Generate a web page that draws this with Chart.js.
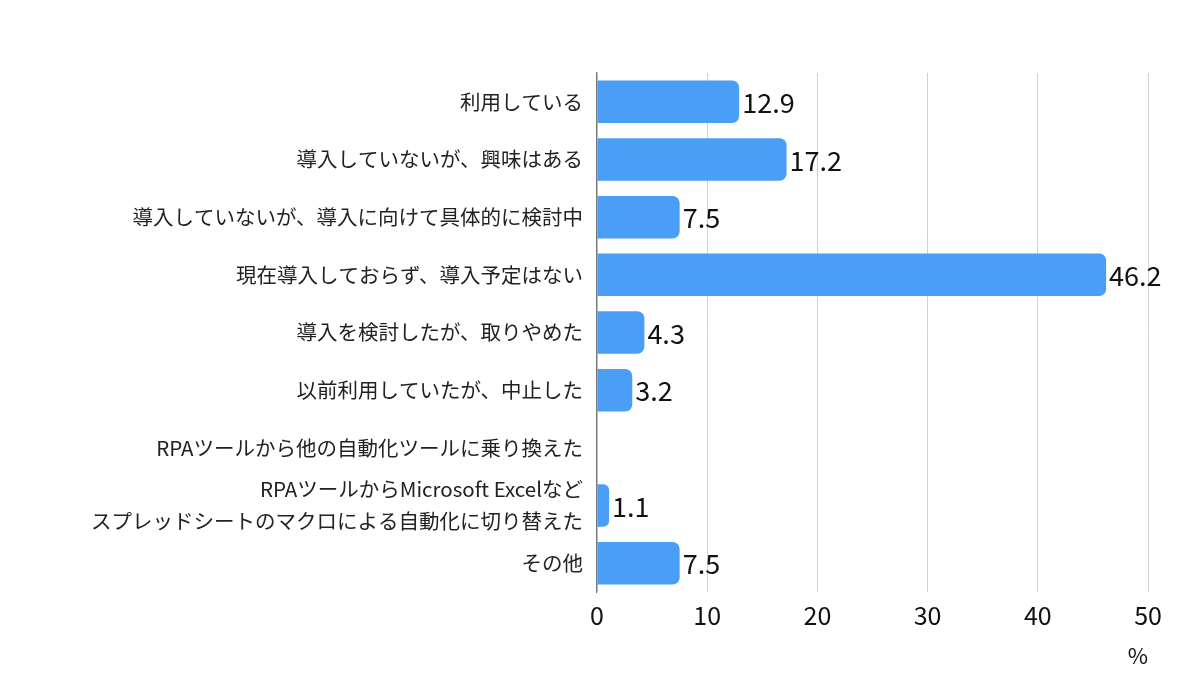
<!DOCTYPE html>
<html><head><meta charset="utf-8">
<script src="https://cdn.jsdelivr.net/npm/chart.js@4"></script>
<style>html,body{margin:0;padding:0;background:#fff}#wrap{width:1200px;height:691px}</style>
</head><body><div id="wrap"><canvas id="c"></canvas></div>
<script>
const categories = [
  "利用している",
  "導入していないが、興味はある",
  "導入していないが、導入に向けて具体的に検討中",
  "現在導入しておらず、導入予定はない",
  "導入を検討したが、取りやめた",
  "以前利用していたが、中止した",
  "RPAツールから他の自動化ツールに乗り換えた",
  ["RPAツールからMicrosoft Excelなど", "スプレッドシートのマクロによる自動化に切り替えた"],
  "その他"
];
const values = [12.9, 17.2, 7.5, 46.2, 4.3, 3.2, null, 1.1, 7.5];
const xTicks = [0, 10, 20, 30, 40, 50];
const axisUnit = "%";

const FONT = "'Noto Sans CJK JP', 'Noto Sans', sans-serif";

const valueLabels = {
  id: 'valueLabels',
  afterDatasetsDraw(chart) {
    const ctx = chart.ctx;
    const meta = chart.getDatasetMeta(0);
    ctx.save();
    ctx.font = "27px " + FONT;
    ctx.fillStyle = "#111";
    ctx.textAlign = "left";
    ctx.textBaseline = "middle";
    meta.data.forEach((bar, i) => {
      const v = values[i];
      if (v === null || v === undefined) return;
      ctx.fillText(v.toFixed(1), bar.x + 3, bar.y + 1);
    });
    ctx.restore();
  }
};

new Chart(document.getElementById('c'), {
  type: 'bar',
  data: {
    labels: categories,
    datasets: [{
      data: values,
      backgroundColor: '#4A9EF5',
      borderWidth: 0,
      borderRadius: {topLeft: 0, bottomLeft: 0, topRight: 7, bottomRight: 7},
      borderSkipped: false,
      categoryPercentage: 0.9,
      barPercentage: 0.82
    }]
  },
  options: {
    indexAxis: 'y',
    responsive: true,
    maintainAspectRatio: false,
    animation: false,
    layout: { padding: { top: 73, right: 52, bottom: 0, left: 0 } },
    plugins: { legend: { display: false }, tooltip: { enabled: false } },
    scales: {
      x: {
        min: 0, max: 50,
        afterBuildTicks(scale) { scale.ticks = xTicks.map(v => ({ value: v })); },
        afterFit(scale) { scale.height = 99; },
        grid: { color: '#d0d0d0', lineWidth: 1, drawTicks: false },
        border: { display: false },
        ticks: { color: '#111', font: { family: FONT, size: 25 }, padding: 8 },
        title: { display: true, text: axisUnit, align: 'end', color: '#111',
                 font: { family: FONT, size: 22 }, padding: { top: 4, bottom: 22 } }
      },
      y: {
        afterFit(scale) { scale.width = 597; },
        grid: { display: false, drawTicks: false },
        border: { display: true, color: '#777', width: 1.2 },
        ticks: { color: '#222', autoSkip: false, font: { family: FONT, size: 20.5, lineHeight: 1.55 }, padding: 14 }
      }
    }
  },
  plugins: [valueLabels]
});
</script></body></html>
